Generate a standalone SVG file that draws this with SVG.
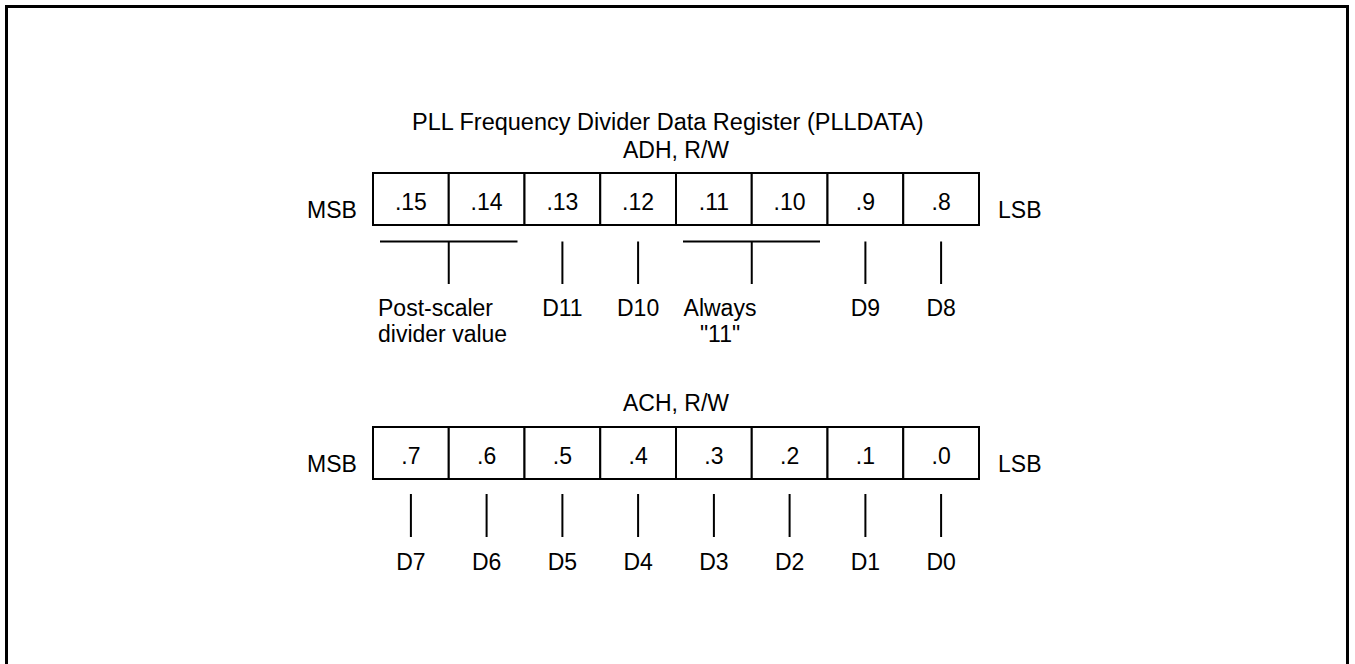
<svg xmlns="http://www.w3.org/2000/svg" width="1355" height="664" viewBox="0 0 1355 664">
<style>
text{font-family:"Liberation Sans",Arial,sans-serif;font-size:23px;fill:#000}
.c{text-anchor:middle}
.t{font-size:23.5px}
.cell{fill:#fff;stroke:#000;stroke-width:2}
.ln{stroke:#000;stroke-width:2;fill:none}
</style>
<rect width="1355" height="664" fill="#fff"/>
<path d="M6.5,670 V6.5 H1347.5 V670" fill="none" stroke="#000" stroke-width="3"/>
<g id="title">
<text class="t" x="412" y="130">PLL Frequency Divider Data Register (PLLDATA)</text>
<text class="c" x="676" y="158">ADH, R/W</text>
</g>
<g id="reg-adh">
<text x="307" y="218">MSB</text>
<rect class="cell" x="373" y="173" width="75.75" height="52"/>
<rect class="cell" x="448.75" y="173" width="75.75" height="52"/>
<rect class="cell" x="524.5" y="173" width="75.75" height="52"/>
<rect class="cell" x="600.25" y="173" width="75.75" height="52"/>
<rect class="cell" x="676" y="173" width="75.75" height="52"/>
<rect class="cell" x="751.75" y="173" width="75.75" height="52"/>
<rect class="cell" x="827.5" y="173" width="75.75" height="52"/>
<rect class="cell" x="903.25" y="173" width="75.75" height="52"/>
<text class="c" x="410.9" y="210">.15</text>
<text class="c" x="486.6" y="210">.14</text>
<text class="c" x="562.4" y="210">.13</text>
<text class="c" x="638.1" y="210">.12</text>
<text class="c" x="713.9" y="210">.11</text>
<text class="c" x="789.6" y="210">.10</text>
<text class="c" x="865.4" y="210">.9</text>
<text class="c" x="941.1" y="210">.8</text>
<text x="998" y="218">LSB</text>
</g>
<g id="connectors-adh">
<path class="ln" d="M380,241.5 H517.5 M448.75,241.5 V284 M562.4,241.5 V284 M638.1,241.5 V284 M683,241.5 H820 M751.75,241.5 V284 M865.4,241.5 V284 M941.1,241.5 V284"/>
</g>
<g id="labels-adh">
<text x="378" y="316">Post-scaler</text>
<text x="378" y="342">divider value</text>
<text class="c" x="562.4" y="316">D11</text>
<text class="c" x="638.1" y="316">D10</text>
<text class="c" x="720" y="316">Always</text>
<text class="c" x="720" y="342">"11"</text>
<text class="c" x="865.4" y="316">D9</text>
<text class="c" x="941.1" y="316">D8</text>
</g>
<g id="reg-ach">
<text class="c" x="676" y="411">ACH, R/W</text>
<text x="307" y="472">MSB</text>
<rect class="cell" x="373" y="427" width="75.75" height="52"/>
<rect class="cell" x="448.75" y="427" width="75.75" height="52"/>
<rect class="cell" x="524.5" y="427" width="75.75" height="52"/>
<rect class="cell" x="600.25" y="427" width="75.75" height="52"/>
<rect class="cell" x="676" y="427" width="75.75" height="52"/>
<rect class="cell" x="751.75" y="427" width="75.75" height="52"/>
<rect class="cell" x="827.5" y="427" width="75.75" height="52"/>
<rect class="cell" x="903.25" y="427" width="75.75" height="52"/>
<text class="c" x="410.9" y="464">.7</text>
<text class="c" x="486.6" y="464">.6</text>
<text class="c" x="562.4" y="464">.5</text>
<text class="c" x="638.1" y="464">.4</text>
<text class="c" x="713.9" y="464">.3</text>
<text class="c" x="789.6" y="464">.2</text>
<text class="c" x="865.4" y="464">.1</text>
<text class="c" x="941.1" y="464">.0</text>
<text x="998" y="472">LSB</text>
</g>
<g id="connectors-ach">
<path class="ln" d="M410.9,494 V537 M486.6,494 V537 M562.4,494 V537 M638.1,494 V537 M713.9,494 V537 M789.6,494 V537 M865.4,494 V537 M941.1,494 V537"/>
</g>
<g id="labels-ach">
<text class="c" x="410.9" y="570">D7</text>
<text class="c" x="486.6" y="570">D6</text>
<text class="c" x="562.4" y="570">D5</text>
<text class="c" x="638.1" y="570">D4</text>
<text class="c" x="713.9" y="570">D3</text>
<text class="c" x="789.6" y="570">D2</text>
<text class="c" x="865.4" y="570">D1</text>
<text class="c" x="941.1" y="570">D0</text>
</g>
</svg>
